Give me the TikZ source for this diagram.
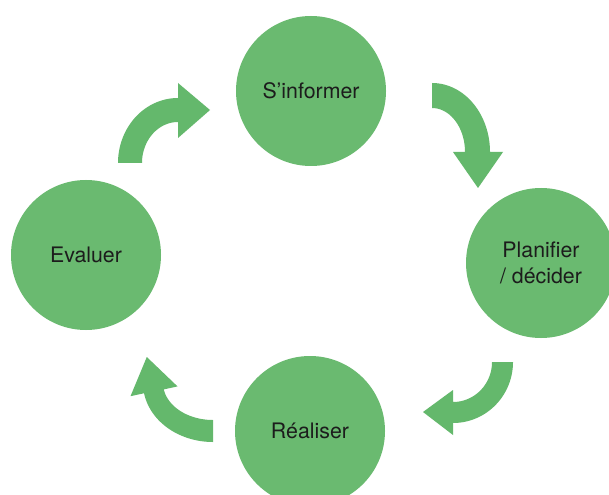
\documentclass[tikz,border=0pt]{standalone}
\usepackage{fontspec}
\setmainfont{TeX Gyre Heros}
\definecolor{cyclegreen}{RGB}{106,186,112}
\definecolor{arrowgreen}{RGB}{100,184,108}
\definecolor{inkdark}{RGB}{28,28,28}
\begin{document}
\begin{tikzpicture}[x=0.75pt,y=-0.75pt,
  stage/.style={circle, fill=cyclegreen, minimum size=112.5pt, inner sep=0pt,
    text=inkdark, font=\fontsize{16}{19}\selectfont, align=center},
  bentarrow/.style={fill=arrowgreen, draw=none}]
\fill[white] (0,0) rectangle (609,495);
\clip (0,0) rectangle (609,495);
% stages
\node[stage] (info) at (311,91) {S’informer};
\node[stage] (plan) at (541,263) {Planifier\\/ décider};
\node[stage] (real) at (310,431) {Réaliser};
\node[stage] (eval) at (86,255) {Evaluer};
% arrow Evaluer -> S'informer
\fill[bentarrow] plot[domain=180:270, samples=40] ({178+60*cos(\x)},{163+65*sin(\x)})
  -- (178,83) -- (210,110) -- (178,138) -- (178,122)
  -- plot[domain=270:180, samples=40] ({178+36*cos(\x)},{163+41*sin(\x)}) -- cycle;
% arrow S'informer -> Planifier
\fill[bentarrow] plot[domain=270:360, samples=40] ({432+58*cos(\x)},{152+69*sin(\x)})
  -- (503,152) -- (478,188) -- (453,152) -- (465,152)
  -- plot[domain=360:270, samples=40] ({432+33*cos(\x)},{152+44*sin(\x)}) -- cycle;
% arrow Planifier -> Realiser
\fill[bentarrow] plot[domain=0:90, samples=40] ({453+60*cos(\x)},{362+61*sin(\x)})
  -- (453,435) -- (423,412) -- (453,390) -- (453,402)
  -- plot[domain=90:0, samples=40] ({453+39*cos(\x)},{362+40*sin(\x)}) -- cycle;
% arrow Realiser -> Evaluer
\fill[bentarrow] plot[domain=90:170, samples=40] ({213+70*cos(\x)},{383+59*sin(\x)})
  -- (130.5,396.2) -- (146.8,357) -- (177.5,386.4)
  -- plot[domain=170:90, samples=40] ({213+50*cos(\x)},{383+37*sin(\x)}) -- cycle;
\end{tikzpicture}
\end{document}
